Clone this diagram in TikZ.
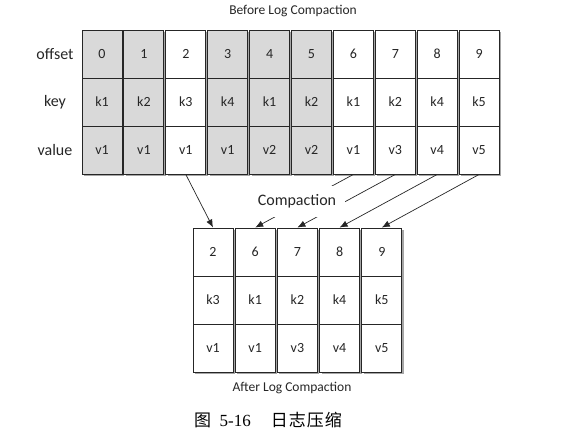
\documentclass[tikz,border=0pt]{standalone}
\usepackage{fontspec}
\setmainfont{Carlito}
\newfontfamily\cjk{Noto Sans CJK SC}
\newfontfamily\capnum{Liberation Serif}
\usetikzlibrary{shadows,arrows.meta}
\definecolor{cellgray}{RGB}{217,217,217}
\definecolor{ink}{RGB}{38,38,38}

\tikzset{
  cell/.style={draw=ink, line width=0.9pt, minimum width=40pt, minimum height=48pt,
    inner sep=0pt, text=ink, font=\fontsize{14}{16}\selectfont,
    drop shadow={shadow xshift=2pt, shadow yshift=-2.5pt, fill=black, opacity=0.35}},
  rowlabel/.style={text=ink, font=\fontsize{16}{18}\selectfont},
  title/.style={text=ink, font=\fontsize{13.5}{15}\selectfont},
  move/.style={-{Latex[length=8pt,width=6.5pt]}, draw=ink, line width=0.7pt}
}

\begin{document}
\begin{tikzpicture}[x=1pt,y=-1pt]
  \useasboundingbox (0,0) rectangle (568,438);

  % log before compaction
  \node[title] (before) at (293,11) {Before Log Compaction};
  \node[rowlabel] (loff) at (55,54) {offset};
  \node[rowlabel] (lkey) at (55,102) {key};
  \node[rowlabel] (lval) at (55,150) {value};
  \foreach \i/\k/\v/\f in {0/k1/v1/cellgray, 1/k2/v1/cellgray, 2/k3/v1/white,
      3/k4/v1/cellgray, 4/k1/v2/cellgray, 5/k2/v2/cellgray, 6/k1/v1/white,
      7/k2/v3/white, 8/k4/v4/white, 9/k5/v5/white} {
    \node[cell, fill=\f] (o\i) at ({102+41.9*\i},54) {\i};
    \node[cell, fill=\f] (k\i) at ({102+41.9*\i},102) {\k};
    \node[cell, fill=\f] (v\i) at ({102+41.9*\i},150) {\v};
  }

  % log after compaction
  \foreach \j/\n/\k/\v in {0/2/k3/v1, 1/6/k1/v1, 2/7/k2/v3, 3/8/k4/v4, 4/9/k5/v5} {
    \node[cell, fill=white] (bo\j) at ({213+42.2*\j},252) {\n};
    \node[cell, fill=white] (bk\j) at ({213+42.2*\j},300) {\k};
    \node[cell, fill=white] (bv\j) at ({213+42.2*\j},348) {\v};
  }
  \node[title] (after) at (292,388) {After Log Compaction};

  % kept records
  \draw[move] (v2.south) -- (bo0.north);
  \foreach \i/\j in {6/1, 7/2, 8/3, 9/4}
    \draw[move] (v\i.south) -- (bo\j.north);
  \node[fill=white, minimum width=95pt, minimum height=31pt, inner sep=0pt,
    text=ink, font=\fontsize{16}{18}\selectfont] (comp) at (297,201.5) {Compaction};

  \node[font=\fontsize{17}{19}\selectfont] (cap) at (268,420)
    {\cjk 图\enspace\capnum 5-16\hspace{20pt}\cjk 日\kern1pt 志\kern1pt 压\kern1pt 缩};
\end{tikzpicture}
\end{document}
